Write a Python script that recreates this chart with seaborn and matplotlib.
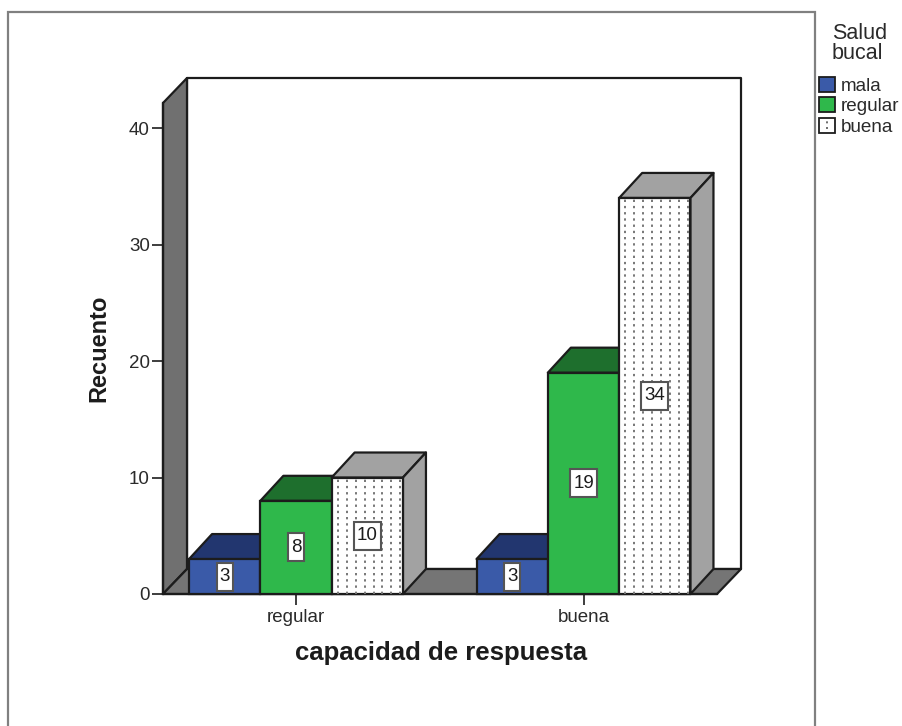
import matplotlib
matplotlib.use("Agg")
import matplotlib.pyplot as plt
import pandas as pd
import seaborn as sns
from matplotlib.legend_handler import HandlerPatch
from matplotlib.lines import Line2D
from matplotlib.patches import Patch, Polygon, Rectangle
from matplotlib.path import Path

# Counts per response capacity and oral health group
capacidad = ["regular", "regular", "regular", "buena", "buena", "buena"]
salud = ["mala", "regular", "buena", "mala", "regular", "buena"]
recuento = [3, 8, 10, 3, 19, 34]

salud_orden = ["mala", "regular", "buena"]
front_colors = ["#3a5aa8", "#2fb84b", "#ffffff"]
shade_colors = ["#22366f", "#1e6f2d", "#a2a2a2"]

W, H = 902, 726
INK = "#1c1c1c"

sns.set_theme(style="white")
plt.rcParams["font.family"] = ["Liberation Sans", "DejaVu Sans"]

fig = plt.figure(figsize=(W / 100, H / 100), dpi=100, facecolor="white")
ax = fig.add_axes([163 / W, 1 - 594 / H, (717 - 163) / W, (594 - 103) / H])
ax.patch.set_visible(False)

# Outer chart frame, open past the lower edge of the image
fig.add_artist(Rectangle((8 / W, -0.05), (815 - 8) / W, 1.05 - 12 / H,
                         transform=fig.transFigure, fill=False,
                         edgecolor="#808080", linewidth=1.6))

df = pd.DataFrame({"capacidad": capacidad, "salud": salud, "recuento": recuento})
sns.barplot(data=df, x="capacidad", y="recuento", hue="salud",
            hue_order=salud_orden, order=["regular", "buena"],
            palette=front_colors, width=0.744, gap=0, dodge=True,
            edgecolor=INK, linewidth=1.6, saturation=1, legend=False, ax=ax)

ax.set_xlim(-0.4626, 1.4643)
ax.set_ylim(0, 42.15)
ax.set_yticks([0, 10, 20, 30, 40])

# Depth of the pseudo-3D box, converted from pixels to data units
x_per_px = (ax.get_xlim()[1] - ax.get_xlim()[0]) / (717 - 163)
y_per_px = (ax.get_ylim()[1] - ax.get_ylim()[0]) / (594 - 103)
dx = 24 * x_per_px
dy = 25 * y_per_px
bar_dx = 23 * x_per_px
x0, x1 = ax.get_xlim()
y0, y1 = ax.get_ylim()


def face(points, color, z, edge=INK, lw=1.6):
    ax.add_patch(Polygon(points, closed=True, facecolor=color, edgecolor=edge,
                         linewidth=lw, joinstyle="round", clip_on=False, zorder=z))


def label_box(x, y, width, height, mutation_size):
    """Value tag: snug around the digits horizontally, taller vertically."""
    pad_x, pad_y = 3.0, 5.5
    xa, xb = x - pad_x, x + width + pad_x
    ya, yb = y - pad_y, y + height + pad_y
    return Path([(xa, ya), (xb, ya), (xb, yb), (xa, yb), (xa, ya)], closed=True)


# Walls and floor
face([(x0 + dx, y0 + dy), (x0 + dx, y1 + dy), (x1 + dx, y1 + dy), (x1 + dx, y0 + dy)], "white", 0.5)
face([(x0, y0), (x0, y1), (x0 + dx, y1 + dy), (x0 + dx, y0 + dy)], "#707070", 0.6)
face([(x0, y0), (x1, y0), (x1 + dx, y0 + dy), (x0 + dx, y0 + dy)], "#757575", 0.6)

# Each bar gets a top and a side face, left-to-right so nearer bars overlap
for hue_idx, container in enumerate(ax.containers):
    for bar in container:
        left, w, h = bar.get_x(), bar.get_width(), bar.get_height()
        z = 2 + left
        bar.set_zorder(z + 0.2)
        bar.set_clip_on(False)
        shade = shade_colors[hue_idx]
        face([(left, h), (left + bar_dx, h + dy), (left + w + bar_dx, h + dy), (left + w, h)], shade, z)
        face([(left + w, 0), (left + w + bar_dx, dy), (left + w + bar_dx, h + dy), (left + w, h)], shade, z)
        if salud_orden[hue_idx] == "buena":
            xs = [left + (i + 0.7) * w / 8 for i in range(8)]
            ax.vlines(xs, 0, h, colors="#777777", linewidth=1.4,
                      linestyles=[(0, (1.2, 2.0))], zorder=z + 0.3)
    ax.bar_label(container, label_type="center", fontsize=13.5, color=INK, zorder=6,
                 bbox=dict(boxstyle=label_box, facecolor="white",
                           edgecolor="#555555", linewidth=1.5))

for side in ["top", "right"]:
    ax.spines[side].set_visible(False)
for side in ["left", "bottom"]:
    ax.spines[side].set_color(INK)
    ax.spines[side].set_linewidth(1.6)
    ax.spines[side].set_zorder(1)

ax.tick_params(axis="both", which="major", length=8, width=1.2, color=INK,
               labelcolor="#2a2a2a", labelsize=13.5, left=True, bottom=True)
ax.tick_params(axis="y", pad=1.5)
ax.tick_params(axis="x", pad=3)

ax.set_xlabel("capacidad de respuesta", fontsize=18.5, fontweight="bold", color=INK)
ax.set_ylabel("Recuento", fontsize=17, fontweight="bold", color=INK)
ax.xaxis.set_label_coords((441 - 163) / (717 - 163), -(653 - 594) / (594 - 103), transform=ax.transAxes)
ax.xaxis.label.set_verticalalignment("center")
ax.yaxis.set_label_coords((99 - 163) / (717 - 163), (594 - 348) / (594 - 103), transform=ax.transAxes)
ax.yaxis.label.set_verticalalignment("center")


class DottedHandler(HandlerPatch):
    """Legend swatch with a short column of dots for the patterned group."""

    def create_artists(self, legend, orig_handle, xdescent, ydescent, width, height, fontsize, trans):
        artists = super().create_artists(legend, orig_handle, xdescent, ydescent,
                                         width, height, fontsize, trans)
        xm = width / 2 - xdescent
        artists.append(Line2D([xm, xm], [height * 0.2, height * 0.85], color="#555555",
                              linewidth=1.2, linestyle=(0, (1.2, 2.2)), transform=trans))
        return artists


handles = [Patch(facecolor=c, edgecolor=INK, linewidth=1.3) for c in front_colors]
legend = fig.legend(handles, salud_orden, title="Salud\nbucal", loc="upper left",
                    bbox_to_anchor=(816 / W, 1 - 20 / H), frameon=False,
                    fontsize=13.6, title_fontsize=15.5, labelcolor="#2a2a2a",
                    handlelength=0.85, handleheight=0.85, handletextpad=0.32,
                    labelspacing=0.135, borderpad=0.15, borderaxespad=0,
                    handler_map={handles[2]: DottedHandler()})
legend.get_title().set_color("#2a2a2a")
legend.get_title().set_linespacing(0.95)
legend._legend_box.sep = 9

fig.savefig("out.png", dpi=100, facecolor="white")
